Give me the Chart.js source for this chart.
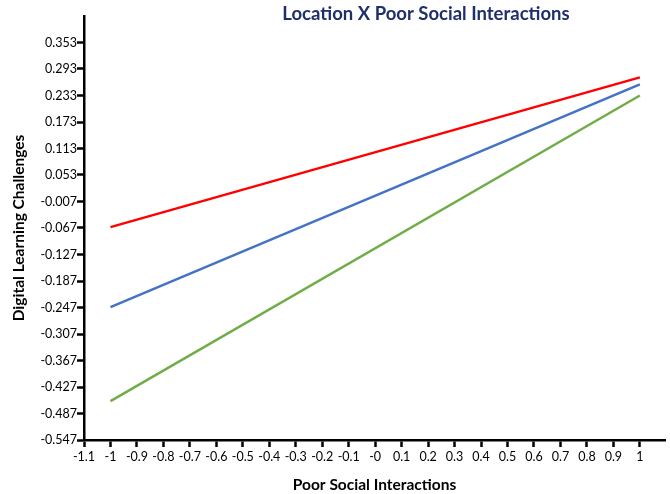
<!DOCTYPE html>
<html lang="en">
<head>
    <meta charset="UTF-8">
    <title>Location X Poor Social Interactions</title>
    <script src="https://cdn.jsdelivr.net/npm/chart.js"></script>
    <style>
        body { margin: 0; background: #ffffff; }
        .wrap { width: 670px; height: 494px; position: relative; }
    </style>
</head>
<body>
    <div class="wrap">
        <canvas id="chart" width="670" height="494"></canvas>
    </div>

    <script>
        // data
        const xValues = [-1, 1];
        const redValues = [-0.065, 0.274];
        const blueValues = [-0.246, 0.258];
        const greenValues = [-0.459, 0.233];

        const xTicks = [-1.1, -1, -0.9, -0.8, -0.7, -0.6, -0.5, -0.4, -0.3, -0.2, -0.1, 0,
            0.1, 0.2, 0.3, 0.4, 0.5, 0.6, 0.7, 0.8, 0.9, 1];
        const xTickLabels = ['-1.1', '-1', '-0.9', '-0.8', '-0.7', '-0.6', '-0.5', '-0.4', '-0.3', '-0.2', '-0.1', '-0',
            '0.1', '0.2', '0.3', '0.4', '0.5', '0.6', '0.7', '0.8', '0.9', '1'];
        const yTicks = [-0.547, -0.487, -0.427, -0.367, -0.307, -0.247, -0.187, -0.127, -0.067, -0.007,
            0.053, 0.113, 0.173, 0.233, 0.293, 0.353];

        function points(ys) {
            return xValues.map((x, i) => ({ x: x, y: ys[i] }));
        }

        // title sits over the top of the plot, so draw it by hand
        const titlePlugin = {
            id: 'topTitle',
            afterDraw(chart) {
                const ctx = chart.ctx;
                ctx.save();
                ctx.font = 'bold 18.5px Lato, sans-serif';
                ctx.fillStyle = '#1F2F6B';
                ctx.textAlign = 'center';
                ctx.textBaseline = 'middle';
                ctx.fillText('Location X Poor Social Interactions', 426, 14);
                ctx.restore();
            }
        };

        const tickFont = { family: 'Lato, sans-serif', size: 12.5 };

        new Chart(document.getElementById('chart').getContext('2d'), {
            type: 'line',
            data: {
                datasets: [
                    { label: 'red', data: points(redValues), borderColor: '#FF0000', borderWidth: 2.5, pointRadius: 0, fill: false },
                    { label: 'blue', data: points(blueValues), borderColor: '#4472C4', borderWidth: 2.5, pointRadius: 0, fill: false },
                    { label: 'green', data: points(greenValues), borderColor: '#70AD47', borderWidth: 2.5, pointRadius: 0, fill: false }
                ]
            },
            options: {
                responsive: false,
                animation: false,
                layout: { padding: { top: 16, right: 5, left: 0, bottom: 0 } },
                plugins: {
                    legend: { display: false },
                    title: { display: false },
                    tooltip: { enabled: false }
                },
                scales: {
                    x: {
                        type: 'linear',
                        min: -1.1,
                        max: 1.095,
                        afterBuildTicks(scale) {
                            scale.ticks = xTicks.map(v => ({ value: v }));
                        },
                        afterFit(scale) { scale.height = 54; },
                        ticks: {
                            autoSkip: false,
                            maxRotation: 0,
                            color: '#000000',
                            font: tickFont,
                            padding: 2,
                            callback: function (value, index) { return xTickLabels[index]; }
                        },
                        grid: {
                            drawOnChartArea: false,
                            drawTicks: true,
                            tickLength: 7,
                            tickColor: '#000000',
                            tickWidth: 2.5
                        },
                        border: { color: '#000000', width: 2.5 },
                        title: {
                            display: true,
                            text: 'Poor Social Interactions',
                            color: '#000000',
                            font: { family: 'Lato, sans-serif', size: 15.5, weight: 'bold' },
                            padding: { top: 4, bottom: 0 }
                        }
                    },
                    y: {
                        type: 'linear',
                        min: -0.547,
                        max: 0.413,
                        afterBuildTicks(scale) {
                            scale.ticks = yTicks.map(v => ({ value: v }));
                        },
                        afterFit(scale) { scale.width = 84; },
                        ticks: {
                            autoSkip: false,
                            color: '#000000',
                            font: tickFont,
                            padding: 0,
                            callback: function (value) { return value.toFixed(3); }
                        },
                        grid: {
                            drawOnChartArea: false,
                            drawTicks: true,
                            tickLength: 7,
                            tickColor: '#000000',
                            tickWidth: 2.5
                        },
                        border: { color: '#000000', width: 2.5 },
                        title: {
                            display: true,
                            text: 'Digital Learning Challenges',
                            color: '#000000',
                            font: { family: 'Lato, sans-serif', size: 15.5, weight: 'bold' },
                            padding: { top: 10, bottom: 0 }
                        }
                    }
                }
            },
            plugins: [titlePlugin]
        });
    </script>
</body>
</html>
